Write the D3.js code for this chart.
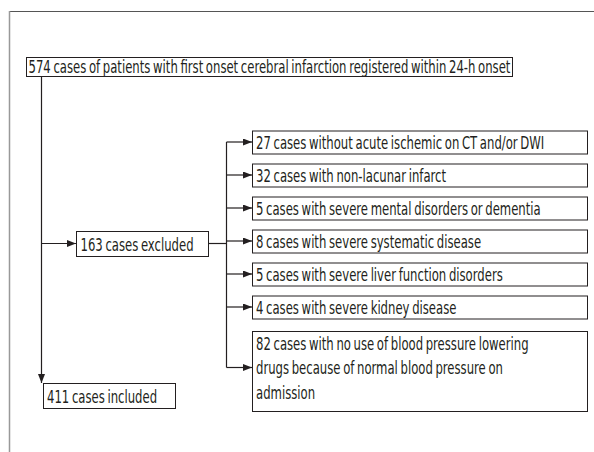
<!DOCTYPE html>
<html><head><meta charset="utf-8">
<script src="https://cdn.jsdelivr.net/npm/d3@7"></script>
<style>body{margin:0;background:#fff}</style></head>
<body><svg id="c" width="594" height="452"></svg>
<script>
const sourceLabel = "574 cases of patients with first onset cerebral infarction registered within 24-h onset";
const excludedLabel = "163 cases excluded";
const includedLabel = "411 cases included";
const reasonCounts = [27, 32, 5, 8, 5, 4, 82];
const reasonLines = [
  ["cases without acute ischemic on CT and/or DWI"],
  ["cases with non-lacunar infarct"],
  ["cases with severe mental disorders or dementia"],
  ["cases with severe systematic disease"],
  ["cases with severe liver function disorders"],
  ["cases with severe kidney disease"],
  ["cases with no use of blood pressure lowering", "drugs because of normal blood pressure on", "admission"]
];

const W = 594, H = 452;
const ink = "#231f20";
const fontFamily = "'DejaVu Sans Condensed','DejaVu Sans',sans-serif";
const fontSize = 18.5;
const spaceAdj = -1.5;
const svg = d3.select("#c");
svg.append("rect").attr("width", W).attr("height", H).attr("fill", "#fff");

svg.append("defs").append("marker")
  .attr("id", "ah").attr("markerUnits", "userSpaceOnUse")
  .attr("viewBox", "0 0 9 7").attr("refX", 9).attr("refY", 3.5)
  .attr("markerWidth", 9).attr("markerHeight", 7).attr("orient", "auto")
  .append("path").attr("d", "M0,0 L9,3.5 L0,7 Z").attr("fill", ink);

// frame
svg.append("line").attr("x1", 9.5).attr("x2", W).attr("y1", 11.5).attr("y2", 11.5)
  .attr("stroke", "#555").attr("stroke-width", 1);
svg.append("line").attr("x1", 9.5).attr("x2", 9.5).attr("y1", 11).attr("y2", H)
  .attr("stroke", "#999").attr("stroke-width", 1.5);

// horizontal scale calibrated on the title width (≈482px in the reference)
const probe = svg.append("text").attr("font-family", fontFamily).attr("font-size", fontSize).text(sourceLabel);
const nTitleSpaces = sourceLabel.split(" ").length - 1;
const titleNatural = probe.node().getComputedTextLength() + nTitleSpaces * spaceAdj;
probe.remove();
const sx = 482 / titleNatural;

function label(x, y, txt) {
  const t = svg.append("text").attr("transform", `translate(${x},${y}) scale(${sx},1)`)
    .attr("font-family", fontFamily).attr("font-size", fontSize).attr("fill", ink);
  t.selectAll("tspan").data(txt.split(" ")).join("tspan")
    .attr("dx", (d, i) => i ? spaceAdj : 0)
    .text((d, i) => i ? " " + d : d);
  return t;
}
function box(x, y, w, h) {
  svg.append("rect").attr("x", x + 0.5).attr("y", y + 0.5).attr("width", w).attr("height", h)
    .attr("fill", "none").attr("stroke", ink).attr("stroke-width", 1);
}
function arrow(x1, y1, x2, y2) {
  svg.append("line").attr("x1", x1).attr("y1", y1).attr("x2", x2).attr("y2", y2)
    .attr("stroke", ink).attr("stroke-width", 1.2).attr("marker-end", "url(#ah)");
}
function line(x1, y1, x2, y2) {
  svg.append("line").attr("x1", x1).attr("y1", y1).attr("x2", x2).attr("y2", y2)
    .attr("stroke", ink).attr("stroke-width", 1.2);
}

// top box
label(28.5, 72.5, sourceLabel);
box(26, 57, 486, 19);

// main vertical
const mainX = 41.5;
arrow(mainX, 76, mainX, 383);

// excluded box
const exY = 243.5;
box(76, 231, 132, 25);
label(80.5, 250.5, excludedLabel);
arrow(mainX, exY, 76, exY);

// included box
box(43, 383, 132, 25);
label(47, 402.5, includedLabel);

// reasons
const rowY = d3.scalePoint().domain(d3.range(6)).range([142, 307]);
const lineStep = 24.5;
const bx = 252, bw = 335, h1 = 23;
const branchX = 226.5;
const arrowYs = [];
reasonCounts.forEach((c, i) => {
  const lines = reasonLines[i];
  let top, h, cy;
  if (lines.length === 1) {
    cy = rowY(i); top = cy - h1 / 2; h = h1;
  } else {
    top = rowY(5) + h1 / 2 + 12.5; h = lines.length * lineStep + 6.5;
  }
  box(bx, top, bw, h);
  lines.forEach((ln, j) => {
    const txt = j === 0 ? `${c} ${ln}` : ln;
    const baseY = lines.length === 1 ? cy + 6.5 : top + 18.5 + j * lineStep;
    label(bx + 4, baseY, txt);
  });
  const ay = lines.length === 1 ? cy : top + 18 + lineStep - 6;
  arrowYs.push(ay);
  arrow(branchX, ay, bx, ay);
});
line(branchX, arrowYs[0], branchX, arrowYs[arrowYs.length - 1]);
line(208, exY, branchX, exY);
</script></body></html>
